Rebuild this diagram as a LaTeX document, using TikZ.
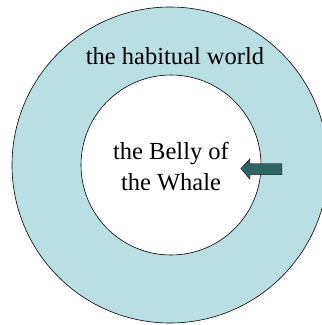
\documentclass[tikz,border=0pt]{standalone}
\usepackage{fontspec}
\setmainfont{Liberation Serif}
\definecolor{worldblue}{HTML}{B9DFE2}
\definecolor{arrowteal}{HTML}{2E6466}
\begin{document}
\begin{tikzpicture} [x = 1pt, y = 1pt, font = \fontsize{24.5}{31}\selectfont]
	\useasboundingbox (0,0) rectangle (322,325);
	\clip (0,0) rectangle (322,325);
	\draw [fill = worldblue, line width = 0.6pt] (170,160) circle (158);
	\draw [fill = white, line width = 0.6pt] (171,160) circle (90);
	\node (world) at (175,269) {the habitual world};
	\node [align = center] (belly) at (171,158) {the Belly of\\the Whale};
	\draw [fill = arrowteal, line width = 0.4pt] (241,156.5) -- (250,166.3) -- (250,161.3) -- (282,161.3) -- (282,150.7) -- (250,150.7) -- (250,145.7) -- cycle;
	\end{tikzpicture}
\end{document}
